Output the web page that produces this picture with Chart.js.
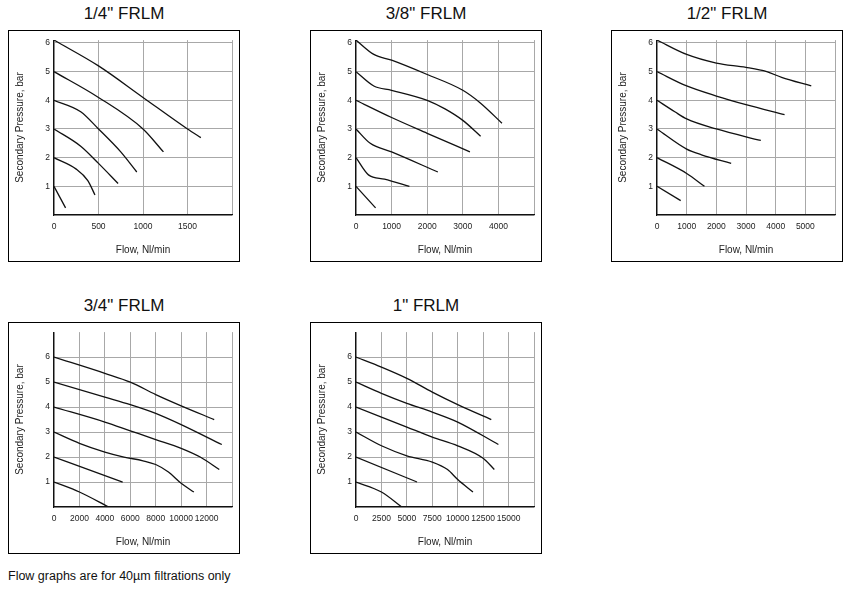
<!DOCTYPE html>
<html><head><meta charset="utf-8">
<script src="https://cdn.jsdelivr.net/npm/chart.js@4"></script>
<style>
body{margin:0;background:#fff;font-family:"Liberation Sans",Arial,sans-serif;}
.box{position:absolute;width:230px;height:230px;border:1px solid #000;}
.ttl{position:absolute;width:232px;text-align:center;font-size:17px;color:#111;}
#foot{position:absolute;left:8px;top:569px;font-size:12.5px;color:#111;}
</style></head><body>
<div id="foot">Flow graphs are for 40µm filtrations only</div>
<script>
const titles = ['1/4" FRLM','3/8" FRLM','1/2" FRLM','3/4" FRLM','1" FRLM'];
const xMax = [2000,5000,6000,14000,17500];
const xStep = [500,1000,1000,2000,2500];
const yMax = [6.1,6.1,6.1,7,7];
const yTicks = [0,1,2,3,4,5,6];
const curves14 = [
 [[0,6.1],[500,5.2],[1000,4.1],[1500,3.0],[1650,2.7]],
 [[0,5],[500,4.1],[1000,3.0],[1230,2.2]],
 [[0,4],[300,3.6],[500,3.0],[750,2.2],[930,1.5]],
 [[0,3],[300,2.4],[500,1.8],[720,1.1]],
 [[0,2],[250,1.6],[380,1.2],[460,0.7]],
 [[0,1],[130,0.25]]];
const curves38 = [
 [[0,6.1],[500,5.6],[1000,5.4],[2000,4.9],[3000,4.35],[3500,3.9],[4100,3.2]],
 [[0,5],[500,4.5],[1000,4.35],[2000,4.0],[2500,3.7],[3000,3.3],[3500,2.75]],
 [[0,4],[1000,3.4],[2000,2.85],[3200,2.2]],
 [[0,3],[400,2.5],[1000,2.2],[2300,1.5]],
 [[0,2],[350,1.4],[800,1.25],[1500,1.0]],
 [[0,1],[550,0.25]]];
const curves12 = [
 [[0,6.1],[1000,5.6],[2000,5.3],[3000,5.15],[3700,5.0],[4200,4.8],[5200,4.5]],
 [[0,5],[1000,4.5],[2000,4.15],[3000,3.85],[4300,3.5]],
 [[0,4],[600,3.6],[1000,3.35],[2000,3.0],[3500,2.6]],
 [[0,3],[1000,2.3],[1500,2.1],[2500,1.8]],
 [[0,2],[1000,1.45],[1600,1.0]],
 [[0,1],[800,0.5]]];
const curves34 = [
 [[0,6],[4000,5.35],[6000,5.0],[8000,4.5],[10000,4.05],[12600,3.5]],
 [[0,5],[4000,4.4],[6000,4.1],[8000,3.75],[10000,3.3],[13200,2.5]],
 [[0,4],[4000,3.4],[6000,3.05],[8000,2.7],[10000,2.35],[11500,2.0],[13000,1.5]],
 [[0,3],[2000,2.55],[4000,2.2],[5500,2.0],[7000,1.85],[8000,1.7],[9000,1.4],[10000,0.95],[11000,0.6]],
 [[0,2],[5400,1.0]],
 [[0,1],[2000,0.6],[4300,0]]];
const curves1 = [
 [[0,6],[2500,5.6],[5000,5.15],[7500,4.6],[10000,4.1],[13300,3.5]],
 [[0,5],[2500,4.55],[5000,4.15],[7500,3.8],[10000,3.4],[14000,2.5]],
 [[0,4],[2500,3.6],[5000,3.2],[7500,2.8],[10000,2.45],[12500,1.95],[13600,1.5]],
 [[0,3],[2500,2.45],[5000,2.05],[7500,1.8],[9000,1.5],[10000,1.1],[11500,0.6]],
 [[0,2],[6000,1.0]],
 [[0,1],[2500,0.6],[4500,0]]];
const allCurves = [curves14,curves38,curves12,curves34,curves1];
const pos = [[8,30],[310,30],[611,30],[8,322],[310,322]];
const F = '"Liberation Sans", Arial, sans-serif';

allCurves.forEach((curves,i)=>{
  const [L,T]=pos[i];
  const t=document.createElement('div');t.className='ttl';t.style.left=L+'px';t.style.top=(T-26)+'px';t.textContent=titles[i];document.body.appendChild(t);
  const b=document.createElement('div');b.className='box';b.style.left=L+'px';b.style.top=T+'px';
  const c=document.createElement('canvas');c.width=230;c.height=230;c.style.width='230px';c.style.height='230px';
  b.appendChild(c);document.body.appendChild(b);
  const xt=[];for(let v=0;v<=xMax[i];v+=xStep[i])xt.push({value:v});
  new Chart(c,{type:'line',
    data:{datasets:curves.map(cv=>({data:cv.map(p=>({x:p[0],y:p[1]})),borderColor:'#111',borderWidth:1.3,pointRadius:0,cubicInterpolationMode:'monotone',fill:false}))},
    options:{responsive:false,animation:false,events:[],
      layout:{padding:0},
      plugins:{legend:{display:false},tooltip:{enabled:false}},
      scales:{
        x:{type:'linear',min:0,max:xMax[i],
          afterFit:s=>{s.height=46;},
          afterBuildTicks:s=>{s.ticks=xt.map(o=>({value:o.value}));},
          ticks:{padding:7,color:'#222',font:{family:F,size:8.5},maxRotation:0,autoSkip:false,
            callback:v=>v>=xMax[i]?'':String(v)},
          grid:{color:'#a8a8a8',lineWidth:1,drawTicks:false},
          border:{color:'#111',width:1.2},
          title:{display:true,text:'Flow, Nl/min',color:'#222',font:{family:F,size:10},padding:{top:0,bottom:5}}},
        y:{type:'linear',min:0,max:yMax[i],
          afterFit:s=>{s.width=45;},
          afterBuildTicks:s=>{s.ticks=yTicks.map(v=>({value:v}));},
          ticks:{padding:4,color:'#222',font:{family:F,size:8.5},autoSkip:false,
            callback:v=>(v===0)?'':String(v)},
          grid:{color:'#a8a8a8',lineWidth:1,drawTicks:false},
          border:{color:'#111',width:1.2},
          title:{display:true,text:'Secondary Pressure, bar',color:'#222',font:{family:F,size:10},padding:{top:5,bottom:0}}}
      }}});
});
</script></body></html>
